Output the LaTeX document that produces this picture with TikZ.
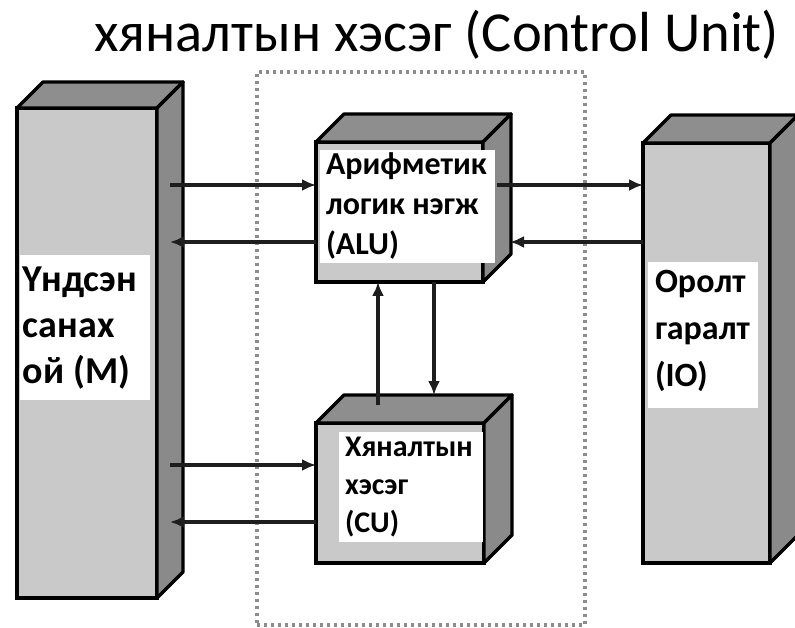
\documentclass[tikz,border=0pt]{standalone}
\usepackage{fontspec}
\setmainfont{Carlito}
\usetikzlibrary{arrows.meta}
\definecolor{frontc}{HTML}{C9C9C9}
\definecolor{topc}{HTML}{8E8E8E}
\definecolor{sidec}{HTML}{8A8A8A}
\definecolor{linec}{HTML}{1E1E1E}
\tikzset{
  front/.style={draw=black, fill=frontc, line width=3.4pt, outer sep=0pt, inner sep=0pt, anchor=north west},
  topface/.style={draw=black, fill=topc, line width=3.4pt, line join=round},
  sideface/.style={draw=black, fill=sidec, line width=3.4pt, line join=round},
  whitebox/.style={fill=white, anchor=north west, inner sep=0pt, outer sep=0pt},
  lab/.style={anchor=base west, inner sep=0pt, outer sep=0pt},
  arr/.style={draw=linec, line width=3.4pt, -{Latex[length=14pt,width=12pt]}},
  dashbox/.style={draw=black!45, line width=3.2pt, dash pattern=on 3pt off 4pt, anchor=north west, inner sep=0pt, outer sep=0pt},
}
\newcommand{\cubefaces}[2]{%
  \filldraw[topface] (#1.north west) -- ++(#2,-#2) -- ([shift={(#2,-#2)}]#1.north east) -- (#1.north east) -- cycle;
  \filldraw[sideface] (#1.north east) -- ++(#2,-#2) -- ([shift={(#2,-#2)}]#1.south east) -- (#1.south east) -- cycle;
}
\newcommand{\lablines}[3]{\begin{tabular}[t]{@{}l@{}}#1\\#2\\#3\end{tabular}}
\begin{document}
\begin{tikzpicture}[x=1pt,y=-1pt]
\useasboundingbox[fill=white] (0,0) rectangle (795,628);

% title
\node[anchor=base west, inner sep=0pt, font=\fontsize{56.5}{60}\selectfont] (title) at (94,52) {хяналтын хэсэг (Control Unit)};

% dotted control-unit area
\node[dashbox, minimum width=328, minimum height=553] (area) at (257,72) {};

% main memory
\node[front, minimum width=140, minimum height=490] (M) at (17,108) {};
\cubefaces{M}{26}
\node[whitebox, minimum width=130, minimum height=145] (Mbox) at (20,255) {};
\node[lab, font=\bfseries\fontsize{38}{46}\selectfont] (Mlab) at (23,292) {\lablines{Үндсэн}{санах}{ой (M)}};

% ALU
\node[front, minimum width=167, minimum height=140] (ALU) at (316,142) {};
\cubefaces{ALU}{28}
\node[whitebox, minimum width=175, minimum height=113] (ALUbox) at (320,150) {};
\node[lab, font=\bfseries\fontsize{32}{40}\selectfont] (ALUlab) at (326,175) {\lablines{Арифметик}{логик нэгж}{(ALU)}};

% CU
\node[front, minimum width=168, minimum height=140] (CU) at (316,423) {};
\cubefaces{CU}{28}
\node[whitebox, minimum width=144, minimum height=110] (CUbox) at (339,432) {};
\node[lab, font=\bfseries\fontsize{30}{38}\selectfont] (CUlab) at (345,456) {\lablines{Хяналтын}{хэсэг}{(CU)}};

% IO
\node[front, minimum width=127, minimum height=420] (IO) at (643,143) {};
\cubefaces{IO}{28}
\node[whitebox, minimum width=110, minimum height=146] (IObox) at (648,262) {};
\node[lab, font=\bfseries\fontsize{34}{47}\selectfont] (IOlab) at (655,293) {\lablines{Оролт}{гаралт}{(IO)}};

% connector coordinates
\coordinate (m1) at ([shift={(13,77)}]M.north east);
\coordinate (m2) at ([shift={(13,134)}]M.north east);
\coordinate (m3) at ([shift={(13,357)}]M.north east);
\coordinate (m4) at ([shift={(13,414)}]M.north east);
\coordinate (a1) at ([shift={(14,43)}]ALU.north east);
\coordinate (a2) at ([shift={(27,100)}]ALU.north east);
\coordinate (c1) at ([shift={(62,-18)}]CU.north west);
\coordinate (c2) at ([shift={(118,-28)}]CU.north west);

% connectors
\draw[arr] (m1) -- (m1 -| ALU.west);
\draw[arr] (m2 -| ALU.west) -- (m2);
\draw[arr] (m3) -- (m3 -| CU.west);
\draw[arr] (m4 -| CU.west) -- (m4);
\draw[arr] (a1) -- (a1 -| IO.west);
\draw[arr] (a2 -| IO.west) -- (a2);
\draw[arr] (c1) -- (c1 |- ALU.south);
\draw[arr] (c2 |- ALU.south) -- (c2);
\end{tikzpicture}
\end{document}
